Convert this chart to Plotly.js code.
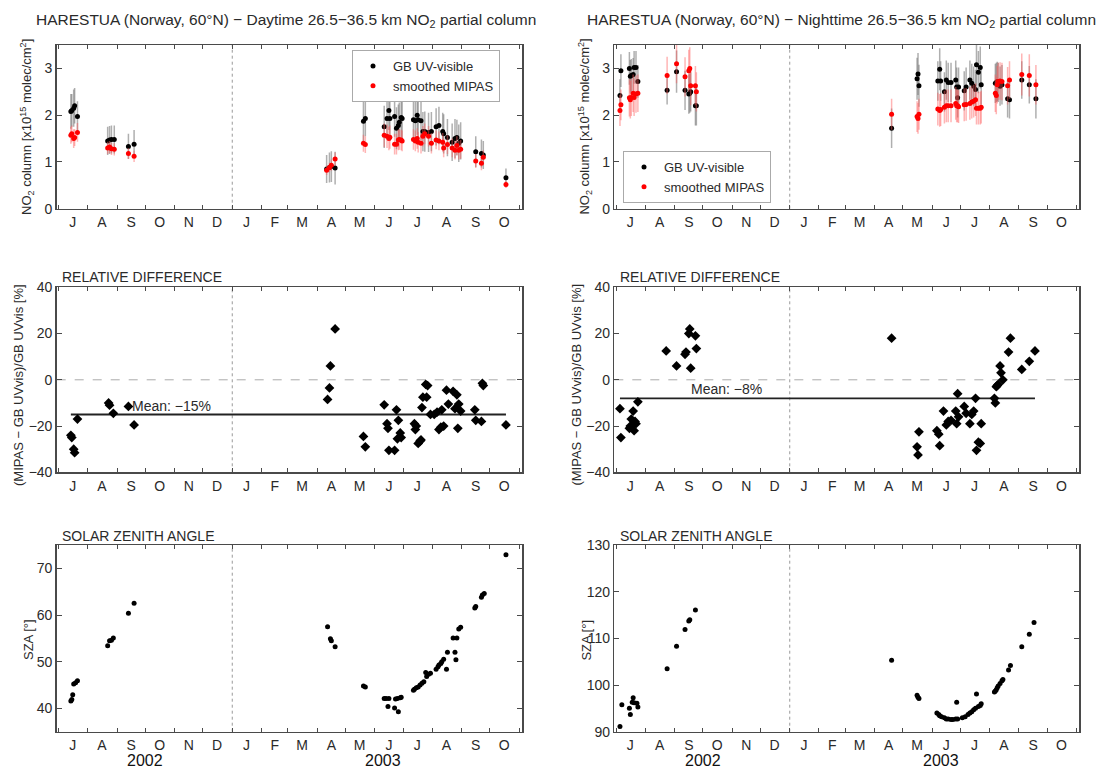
<!DOCTYPE html>
<html>
<head>
<meta charset="utf-8">
<script src="https://cdn.plot.ly/plotly-3.0.1.min.js"></script>
<style>html,body{margin:0;padding:0;background:#fff;}#chart{width:1115px;height:769px;}</style>
</head>
<body>
<div id="chart"></div>
<script>
// ---------- tick labels ----------
const monthStarts = ['2002-07-01','2002-08-01','2002-09-01','2002-10-01','2002-11-01','2002-12-01','2003-01-01','2003-02-01','2003-03-01','2003-04-01','2003-05-01','2003-06-01','2003-07-01','2003-08-01','2003-09-01','2003-10-01','2003-11-01'];
const monthMids = ['2002-07-16','2002-08-16','2002-09-16','2002-10-16','2002-11-16','2002-12-16','2003-01-16','2003-02-15','2003-03-16','2003-04-16','2003-05-16','2003-06-16','2003-07-16','2003-08-16','2003-09-16','2003-10-16'];
const monthLetters = ['J','A','S','O','N','D','J','F','M','A','M','J','J','A','S','O'];
const yearLabels = ['2002','2003'];

// ---------- Daytime NO2 partial column ----------
const dayDates = ['2002-07-14','2002-07-15','2002-07-17','2002-07-18','2002-07-21',
 '2002-08-22','2002-08-24','2002-08-26','2002-08-29','2002-09-13','2002-09-19',
 '2003-04-11','2003-04-14','2003-04-16','2003-04-20','2003-05-20','2003-05-22',
 '2003-06-11','2003-06-14','2003-06-16','2003-06-17','2003-06-22','2003-06-24','2003-06-26','2003-06-27','2003-06-29','2003-06-30',
 '2003-07-12','2003-07-14','2003-07-16','2003-07-17','2003-07-20','2003-07-22','2003-07-24','2003-07-28','2003-07-31',
 '2003-08-05','2003-08-08','2003-08-12','2003-08-13','2003-08-17','2003-08-22','2003-08-25','2003-08-27','2003-08-29','2003-08-31',
 '2003-09-16','2003-09-22','2003-09-24','2003-10-18'];
const dayGB = [2.08,2.10,2.15,2.20,1.97, 1.45,1.47,1.48,1.48, 1.33,1.38, 0.85,0.88,0.90,0.87, 1.87,1.93,
 1.75,1.93,2.10,1.93,1.97,1.72,1.78,1.85,1.95,1.93,
 1.90,1.88,2.00,1.90,1.88,1.65,1.65,1.63,1.65,
 1.75,1.78,1.65,1.60,1.52,1.42,1.50,1.52,1.40,1.45,
 1.22,1.18,1.15,0.66];
const dayGBErr = [0.37,0.35,0.40,0.38,0.33, 0.30,0.30,0.30,0.30, 0.27,0.30, 0.30,0.32,0.33,0.35, 0.42,0.38,
 0.45,0.45,0.42,0.45,0.43,0.45,0.45,0.42,0.45,0.45,
 0.42,0.44,0.42,0.45,0.42,0.42,0.43,0.42,0.42,
 0.40,0.40,0.40,0.42,0.40,0.40,0.42,0.38,0.40,0.40,
 0.33,0.30,0.30,0.20];
const dayMipas = [1.57,1.60,1.50,1.52,1.63, 1.30,1.32,1.28,1.27, 1.18,1.12, 0.82,0.88,0.93,1.06, 1.40,1.37,
 1.57,1.55,1.50,1.53,1.38,1.38,1.47,1.48,1.47,1.45,
 1.48,1.45,1.50,1.42,1.40,1.55,1.60,1.55,1.40,
 1.47,1.45,1.42,1.30,1.37,1.30,1.25,1.35,1.25,1.27,
 1.02,0.97,1.10,0.52];
const dayMipasErr = [0.18,0.18,0.20,0.18,0.20, 0.13,0.13,0.13,0.13, 0.12,0.12, 0.10,0.10,0.12,0.14, 0.18,0.18,
 0.25,0.25,0.25,0.25,0.22,0.22,0.22,0.22,0.22,0.22,
 0.22,0.22,0.22,0.22,0.22,0.22,0.22,0.22,0.22,
 0.20,0.20,0.20,0.20,0.20,0.20,0.20,0.20,0.20,0.20,
 0.15,0.15,0.15,0.08];

// ---------- Nighttime NO2 partial column ----------
const nightDates = ['2002-07-05','2002-07-06','2002-07-15','2002-07-16','2002-07-17','2002-07-19','2002-07-20','2002-07-22','2002-07-24',
 '2002-08-24','2002-09-03','2002-09-12','2002-09-16','2002-09-17','2002-09-18','2002-09-23','2002-09-24',
 '2003-04-19','2003-05-16','2003-05-17','2003-05-18',
 '2003-06-07','2003-06-09','2003-06-10','2003-06-14','2003-06-16','2003-06-18','2003-06-21','2003-06-26','2003-06-27','2003-06-28','2003-06-29',
 '2003-07-05','2003-07-07','2003-07-11','2003-07-13','2003-07-15','2003-07-17','2003-07-18','2003-07-20','2003-07-22','2003-07-23',
 '2003-08-07','2003-08-08','2003-08-09','2003-08-10','2003-08-12','2003-08-14','2003-08-20','2003-08-22',
 '2003-09-04','2003-09-12','2003-09-19'];
const nightGB = [2.42,2.95,3.00,2.83,2.85,2.87,3.02,3.02,2.72,
 2.53,2.93,2.53,2.45,2.47,2.50,2.20,2.20,
 1.72,2.78,2.88,2.63,
 2.73,2.98,2.73,2.50,2.75,2.70,2.70,2.75,2.60,2.37,2.60,
 2.52,2.60,2.75,2.68,2.62,2.55,3.08,2.92,3.02,2.65,
 2.68,2.70,2.72,2.70,2.62,2.65,2.35,2.33,
 2.75,2.65,2.35];
const nightGBErr = [0.35,0.35,0.35,0.35,0.35,0.35,0.35,0.35,0.35,
 0.30,0.45,0.42,0.42,0.42,0.42,0.42,0.42,
 0.42,0.45,0.45,0.45,
 0.42,0.45,0.42,0.42,0.42,0.42,0.42,0.42,0.42,0.42,0.42,
 0.42,0.42,0.42,0.42,0.42,0.42,0.45,0.45,0.45,0.42,
 0.42,0.42,0.42,0.42,0.42,0.42,0.40,0.40,
 0.40,0.40,0.42];
const nightMipas = [2.10,2.22,2.37,2.33,2.38,2.47,2.38,2.45,2.47,
 2.85,3.10,2.82,2.95,3.00,2.63,2.63,2.50,
 2.02,1.97,1.93,2.02,
 2.13,2.10,2.12,2.17,2.20,2.20,2.20,2.25,2.20,2.20,2.18,
 2.22,2.23,2.25,2.28,2.30,2.33,2.15,2.15,2.15,2.17,
 2.47,2.42,2.65,2.72,2.73,2.72,2.63,2.75,
 2.87,2.85,2.65];
const nightMipasErr = [0.33,0.33,0.40,0.40,0.40,0.40,0.40,0.40,0.40,
 0.40,0.42,0.42,0.45,0.45,0.42,0.42,0.42,
 0.33,0.33,0.33,0.33,
 0.35,0.35,0.35,0.35,0.35,0.35,0.35,0.35,0.35,0.35,0.35,
 0.35,0.35,0.35,0.35,0.35,0.35,0.35,0.35,0.35,0.35,
 0.40,0.40,0.40,0.40,0.40,0.40,0.40,0.40,
 0.45,0.45,0.42];

// ---------- Relative differences ----------
const dayDiffDates = ['2002-07-14','2002-07-15','2002-07-17','2002-07-18','2002-07-21',
 '2002-08-23','2002-08-24','2002-08-28','2002-09-13','2002-09-19',
 '2003-04-12','2003-04-14','2003-04-15','2003-04-20','2003-05-20','2003-05-22',
 '2003-06-11','2003-06-14','2003-06-15','2003-06-16','2003-06-22','2003-06-24','2003-06-25','2003-06-26','2003-06-28','2003-06-29',
 '2003-07-13','2003-07-14','2003-07-15','2003-07-17','2003-07-19','2003-07-20','2003-07-21','2003-07-22','2003-07-25','2003-07-26','2003-07-27','2003-07-30',
 '2003-08-03','2003-08-06','2003-08-08','2003-08-10','2003-08-11','2003-08-13','2003-08-16','2003-08-18','2003-08-23','2003-08-25','2003-08-27','2003-08-28','2003-08-29','2003-08-31',
 '2003-09-15','2003-09-16','2003-09-23','2003-09-24','2003-09-22','2003-10-18'];
const dayDiff = [-24,-25,-30,-31.5,-17, -10,-11,-14.5,-11.5,-19.5,
 -8.5,-3.5,6,22,-24.5,-29,
 -10.8,-19,-21,-30.5,-30.5,-13,-25.5,-17.5,-23,-25,
 -19,-21.5,-20,-27.5,-26.5,-26,-12,-7.5,-2,-7.5,-2.5,-15,
 -15,-14,-21.5,-20.5,-13,-20,-4.5,-10.5,-5,-12.5,-6.5,-21,-10.5,-13.5,
 -13,-17.5,-1.5,-2.5,-18,-19.5];
const dayMean = [-15];

const nightDiffDates = ['2002-07-05','2002-07-06','2002-07-15','2002-07-16','2002-07-17','2002-07-19','2002-07-20','2002-07-21','2002-07-22','2002-07-24',
 '2002-08-23','2002-09-03','2002-09-12','2002-09-13','2002-09-17','2002-09-16','2002-09-18','2002-09-23','2002-09-24',
 '2003-04-19','2003-05-16','2003-05-17','2003-05-18',
 '2003-06-06','2003-06-08','2003-06-09','2003-06-13','2003-06-16','2003-06-18','2003-06-21','2003-06-26','2003-06-27','2003-06-28','2003-06-29',
 '2003-07-05','2003-07-07','2003-07-11','2003-07-13','2003-07-15','2003-07-17','2003-07-18','2003-07-20','2003-07-22','2003-07-23',
 '2003-08-06','2003-08-07','2003-08-08','2003-08-09','2003-08-10','2003-08-12','2003-08-13','2003-08-15','2003-08-21','2003-08-23',
 '2003-09-04','2003-09-12','2003-09-18'];
const nightDiff = [-12.5,-25,-21,-20,-17,-13.5,-22,-18,-19,-9.5,
 12.5,6,11,12,22,20,5,19,13.5,
 18,-29,-32.5,-22.5,
 -22,-23.5,-28.5,-13.5,-19.5,-18,-17.5,-13.5,-19,-6,-16,
 -11.5,-14.5,-19,-15,-13.5,-8,-30.5,-27,-27.5,-19,
 -8,-10,-3,-2.5,-2,6,3,0,12,18,
 4.5,8,12.5];
const nightMean = [-8];

// ---------- Solar zenith angle ----------
const daySzaDates = ['2002-07-14','2002-07-15','2002-07-16','2002-07-17','2002-07-19','2002-07-21',
 '2002-08-22','2002-08-24','2002-08-26','2002-08-28','2002-09-13','2002-09-19',
 '2003-04-12','2003-04-15','2003-04-16','2003-04-20','2003-05-20','2003-05-22',
 '2003-06-11','2003-06-13','2003-06-15','2003-06-16','2003-06-22','2003-06-23','2003-06-25','2003-06-26','2003-06-28','2003-06-29',
 '2003-07-12','2003-07-13','2003-07-15','2003-07-17','2003-07-19','2003-07-21','2003-07-23','2003-07-25','2003-07-26','2003-07-28','2003-07-30',
 '2003-08-05','2003-08-07','2003-08-08','2003-08-10','2003-08-11','2003-08-13','2003-08-16','2003-08-17','2003-08-23','2003-08-25','2003-08-26','2003-08-27','2003-08-29','2003-08-31',
 '2003-09-15','2003-09-16','2003-09-22','2003-09-23','2003-09-25','2003-10-18'];
const daySza = [41.6,41.9,42.9,45.2,45.5,45.9, 53.4,54.5,54.6,55.1,60.4,62.5,
 57.5,54.9,54.5,53.2,44.8,44.6,
 42.1,42.1,40.4,42.1,40.1,42.0,42.1,39.3,42.3,42.4,
 43.9,44.1,44.4,44.6,45.0,45.4,45.7,47.7,46.8,47.3,47.5,
 48.4,48.9,49.3,49.6,50.0,50.5,48.4,52.0,55.1,52.0,50.4,55.1,57.0,57.4,
 61.5,61.8,63.8,64.3,64.6,72.9];

const nightSzaDates = ['2002-07-05','2002-07-07','2002-07-15','2002-07-16','2002-07-18','2002-07-19','2002-07-20','2002-07-23','2002-07-24',
 '2002-08-24','2002-09-03','2002-09-12','2002-09-16','2002-09-17','2002-09-23',
 '2003-04-19','2003-05-16','2003-05-17','2003-05-18',
 '2003-06-06','2003-06-08','2003-06-09','2003-06-11','2003-06-14','2003-06-16','2003-06-18','2003-06-21','2003-06-23','2003-06-26','2003-06-27','2003-06-28',
 '2003-07-03','2003-07-06','2003-07-09','2003-07-11','2003-07-13','2003-07-15','2003-07-17','2003-07-18','2003-07-20','2003-07-22','2003-07-23',
 '2003-08-06','2003-08-07','2003-08-08','2003-08-09','2003-08-10','2003-08-12','2003-08-14','2003-08-15','2003-08-21','2003-08-23',
 '2003-09-04','2003-09-12','2003-09-17'];
const nightSza = [91.1,95.8,95.0,93.7,96.3,97.3,96.2,96.1,95.3,
 103.5,108.3,111.9,113.7,114.0,116.1,
 105.3,97.8,97.4,97.1,
 94.0,93.7,93.4,93.2,93.0,92.7,92.7,92.6,92.6,92.7,96.3,92.7,
 93.0,93.2,93.7,94.0,94.3,94.7,95.0,98.1,95.4,95.6,96.0,
 98.5,98.7,99.0,99.4,99.8,100.3,100.9,101.2,103.2,104.2,
 108.2,110.9,113.4];

// ---------- styling ----------
const FONT = 'Liberation Sans, Arial, Helvetica, sans-serif';
const AX = '#4a4a4a';
const TXT = '#2a2a2a';
const W = 1115, H = 769;
const xRange = ['2002-06-29', '2003-11-04'];
const colL = [56.7 / W, 522 / W];
const colR = [614.3 / W, 1079.3 / W];
const rowTop = [1 - 208.7 / H, 1 - 45 / H];
const rowMid = [1 - 472.3 / H, 1 - 287.3 / H];
const rowBot = [1 - 731.7 / H, 1 - 545 / H];

function xax(dom, anchor) {
  return {
    domain: dom, anchor: anchor, type: 'date', range: xRange,
    tickmode: 'array', tickvals: monthMids, ticktext: monthLetters, ticks: '',
    minor: {tickmode: 'array', tickvals: monthStarts, ticks: 'inside', ticklen: 4, tickwidth: 1, tickcolor: AX, showgrid: false},
    showgrid: false, zeroline: false, showline: true, mirror: 'ticks',
    linecolor: AX, linewidth: 1.5, tickfont: {family: FONT, size: 14, color: TXT}, fixedrange: true
  };
}
function yax(dom, anchor, range, tv) {
  return {
    domain: dom, anchor: anchor, range: range, tickmode: 'array', tickvals: tv,
    ticks: 'inside', ticklen: 5, tickwidth: 1, tickcolor: AX,
    showgrid: false, zeroline: false, showline: true, mirror: 'ticks',
    linecolor: AX, linewidth: 1.5, tickfont: {family: FONT, size: 14, color: TXT}, fixedrange: true
  };
}

const gbErrColor = 'rgba(110,110,110,0.55)';
const mpErrColor = 'rgba(255,90,90,0.45)';

const traces = [
  // top-left
  {x: dayDates, y: dayGB, xaxis: 'x', yaxis: 'y', type: 'scatter', mode: 'markers', name: 'GB UV-visible', legend: 'legend',
   marker: {color: '#000', size: 5}, error_y: {type: 'data', array: dayGBErr, color: gbErrColor, thickness: 1.5, width: 0}},
  {x: dayDates, y: dayMipas, xaxis: 'x', yaxis: 'y', type: 'scatter', mode: 'markers', name: 'smoothed MIPAS', legend: 'legend',
   marker: {color: '#ff0000', size: 5}, error_y: {type: 'data', array: dayMipasErr, color: mpErrColor, thickness: 1.5, width: 0}},
  // top-right
  {x: nightDates, y: nightGB, xaxis: 'x2', yaxis: 'y2', type: 'scatter', mode: 'markers', name: 'GB UV-visible', legend: 'legend2',
   marker: {color: '#000', size: 5}, error_y: {type: 'data', array: nightGBErr, color: gbErrColor, thickness: 1.5, width: 0}},
  {x: nightDates, y: nightMipas, xaxis: 'x2', yaxis: 'y2', type: 'scatter', mode: 'markers', name: 'smoothed MIPAS', legend: 'legend2',
   marker: {color: '#ff0000', size: 5}, error_y: {type: 'data', array: nightMipasErr, color: mpErrColor, thickness: 1.5, width: 0}},
  // middle
  {x: [dayDiffDates[0], dayDiffDates[dayDiffDates.length - 1]], y: [dayMean[0], dayMean[0]], xaxis: 'x3', yaxis: 'y3', type: 'scatter', mode: 'lines',
   line: {color: '#222', width: 1.8}, showlegend: false, hoverinfo: 'skip'},
  {x: dayDiffDates, y: dayDiff, xaxis: 'x3', yaxis: 'y3', type: 'scatter', mode: 'markers', showlegend: false,
   marker: {color: '#000', size: 7.5, symbol: 'diamond'}},
  {x: [nightDiffDates[0], nightDiffDates[nightDiffDates.length - 1]], y: [nightMean[0], nightMean[0]], xaxis: 'x4', yaxis: 'y4', type: 'scatter', mode: 'lines',
   line: {color: '#222', width: 1.8}, showlegend: false, hoverinfo: 'skip'},
  {x: nightDiffDates, y: nightDiff, xaxis: 'x4', yaxis: 'y4', type: 'scatter', mode: 'markers', showlegend: false,
   marker: {color: '#000', size: 7.5, symbol: 'diamond'}},
  // bottom
  {x: daySzaDates, y: daySza, xaxis: 'x5', yaxis: 'y5', type: 'scatter', mode: 'markers', showlegend: false,
   marker: {color: '#000', size: 5}},
  {x: nightSzaDates, y: nightSza, xaxis: 'x6', yaxis: 'y6', type: 'scatter', mode: 'markers', showlegend: false,
   marker: {color: '#000', size: 5}}
];

const shapes = [];
for (let i = 1; i <= 6; i++) {
  const xs = i === 1 ? 'x' : 'x' + i;
  const ys = i === 1 ? 'y' : 'y' + i;
  shapes.push({type: 'line', xref: xs, yref: ys + ' domain', x0: '2003-01-01', x1: '2003-01-01', y0: 0, y1: 1,
    line: {color: '#999', width: 1, dash: 'dot'}, layer: 'below'});
}
['y3', 'y4'].forEach(function (ys) {
  shapes.push({type: 'line', xref: (ys === 'y3' ? 'x3' : 'x4') + ' domain', yref: ys, x0: 0, x1: 1, y0: 0, y1: 0,
    line: {color: '#aaa', width: 1, dash: 'dash'}, layer: 'below'});
});

function ann(text, x, y, opts) {
  return Object.assign({text: text, xref: 'paper', yref: 'paper', x: x, y: y, showarrow: false,
    xanchor: 'center', yanchor: 'middle', font: {family: FONT, size: 14, color: TXT}}, opts || {});
}
const off = 557.6;
const annotations = [
  ann('HARESTUA (Norway, 60°N) − Daytime 26.5−36.5 km NO<sub>2</sub> partial column', 34 / W, 1 - 20 / H, {xanchor: 'left', font: {family: FONT, size: 15.5, color: TXT}}),
  ann('HARESTUA (Norway, 60°N) − Nighttime 26.5−36.5 km NO<sub>2</sub> partial column', 585 / W, 1 - 20 / H, {xanchor: 'left', font: {family: FONT, size: 15.5, color: TXT}}),
  ann('RELATIVE DIFFERENCE', 60 / W, 1 - 277 / H, {xanchor: 'left'}),
  ann('RELATIVE DIFFERENCE', (60 + off) / W, 1 - 277 / H, {xanchor: 'left'}),
  ann('SOLAR ZENITH ANGLE', 60 / W, 1 - 536 / H, {xanchor: 'left'}),
  ann('SOLAR ZENITH ANGLE', (60 + off) / W, 1 - 536 / H, {xanchor: 'left'}),
  ann('NO<sub>2</sub> column [x10<sup>15</sup> molec/cm<sup>2</sup>]', 27 / W, 1 - 127 / H, {textangle: -90, font: {family: FONT, size: 13, color: TXT}}),
  ann('NO<sub>2</sub> column [x10<sup>15</sup> molec/cm<sup>2</sup>]', (27 + off) / W, 1 - 127 / H, {textangle: -90, font: {family: FONT, size: 13, color: TXT}}),
  ann('(MIPAS − GB UVvis)/GB UVvis [%]', 18 / W, 1 - 385 / H, {textangle: -90, font: {family: FONT, size: 13, color: TXT}}),
  ann('(MIPAS − GB UVvis)/GB UVvis [%]', (18 + off) / W, 1 - 385 / H, {textangle: -90, font: {family: FONT, size: 13, color: TXT}}),
  ann('SZA [°]', 28 / W, 1 - 640 / H, {textangle: -90, font: {family: FONT, size: 13, color: TXT}}),
  ann('SZA [°]', (28 + off) / W, 1 - 640 / H, {textangle: -90, font: {family: FONT, size: 13, color: TXT}}),
  {text: 'Mean: −' + Math.abs(dayMean[0]) + '%', xref: 'x3', yref: 'y3', x: '2002-09-15', y: -11.5, showarrow: false,
   xanchor: 'left', yanchor: 'middle', font: {family: FONT, size: 14, color: TXT}},
  {text: 'Mean: −' + Math.abs(nightMean[0]) + '%', xref: 'x4', yref: 'y4', x: '2002-09-16', y: -4, showarrow: false,
   xanchor: 'left', yanchor: 'middle', font: {family: FONT, size: 14, color: TXT}},
  ann(yearLabels[0], 145 / W, 1 - 760 / H, {font: {family: FONT, size: 16, color: '#111'}}),
  ann(yearLabels[1], 383 / W, 1 - 760 / H, {font: {family: FONT, size: 16, color: '#111'}}),
  ann(yearLabels[0], (145 + off) / W, 1 - 760 / H, {font: {family: FONT, size: 16, color: '#111'}}),
  ann(yearLabels[1], (383 + off) / W, 1 - 760 / H, {font: {family: FONT, size: 16, color: '#111'}})
];

const legendStyle = {bgcolor: '#fff', bordercolor: '#aaa', borderwidth: 1, font: {family: FONT, size: 13, color: TXT},
  itemwidth: 30, tracegroupgap: 0, xref: 'paper', yref: 'paper'};

const layout = {
  width: W, height: H, margin: {l: 0, r: 0, t: 0, b: 0},
  paper_bgcolor: '#fff', plot_bgcolor: '#fff', showlegend: true,
  font: {family: FONT, color: TXT},
  xaxis: xax(colL, 'y'), yaxis: yax(rowTop, 'x', [0, 3.5], [0, 1, 2, 3]),
  xaxis2: xax(colR, 'y2'), yaxis2: yax(rowTop, 'x2', [0, 3.5], [0, 1, 2, 3]),
  xaxis3: xax(colL, 'y3'), yaxis3: yax(rowMid, 'x3', [-40, 40], [-40, -20, 0, 20, 40]),
  xaxis4: xax(colR, 'y4'), yaxis4: yax(rowMid, 'x4', [-40, 40], [-40, -20, 0, 20, 40]),
  xaxis5: xax(colL, 'y5'), yaxis5: yax(rowBot, 'x5', [35, 75], [40, 50, 60, 70]),
  xaxis6: xax(colR, 'y6'), yaxis6: yax(rowBot, 'x6', [90, 130], [90, 100, 110, 120, 130]),
  legend: Object.assign({x: 352 / W, y: 1 - 50 / H, xanchor: 'left', yanchor: 'top'}, legendStyle),
  legend2: Object.assign({x: 623 / W, y: 1 - 203 / H, xanchor: 'left', yanchor: 'bottom'}, legendStyle),
  shapes: shapes, annotations: annotations
};

Plotly.newPlot('chart', traces, layout, {displayModeBar: false, staticPlot: true});
</script>
</body>
</html>
